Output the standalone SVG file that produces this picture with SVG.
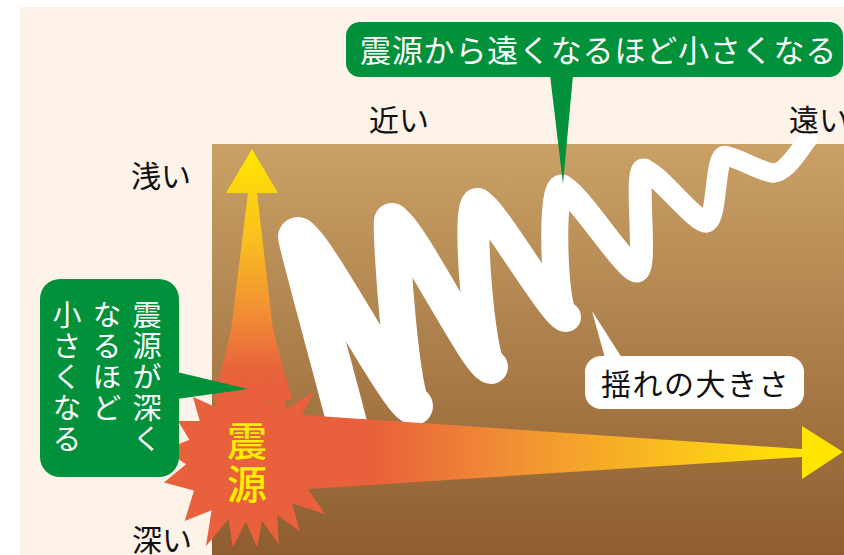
<svg xmlns="http://www.w3.org/2000/svg" width="844" height="555" viewBox="0 0 844 555">
  <defs>
    <linearGradient id="ground" x1="0" y1="144" x2="0" y2="555" gradientUnits="userSpaceOnUse">
      <stop offset="0" stop-color="#c9a166"/>
      <stop offset="1" stop-color="#8f5d2f"/>
    </linearGradient>
    <linearGradient id="gradUp" x1="0" y1="149" x2="0" y2="400" gradientUnits="userSpaceOnUse">
      <stop offset="0" stop-color="#ffe600"/>
      <stop offset="0.35" stop-color="#fac01f"/>
      <stop offset="0.62" stop-color="#f29432"/>
      <stop offset="0.88" stop-color="#e8633c"/>
      <stop offset="1" stop-color="#e8603c"/>
    </linearGradient>
    <linearGradient id="gradRight" x1="370" y1="0" x2="830" y2="0" gradientUnits="userSpaceOnUse">
      <stop offset="0" stop-color="#e8603c"/>
      <stop offset="0.35" stop-color="#f29632"/>
      <stop offset="0.7" stop-color="#fbc51b"/>
      <stop offset="0.95" stop-color="#ffe600"/>
    </linearGradient>
    <style>
      .lbl { font-family: "Noto Sans CJK JP", "Noto Sans", sans-serif; font-size: 30px; fill: #111111; }
      .call { font-family: "Noto Sans CJK JP", "Noto Sans", sans-serif; fill: #ffffff; }
      .green { fill: #00913a; }
      .wave path { fill: none; stroke: #ffffff; stroke-linecap: round; stroke-linejoin: round; }
    </style>
  </defs>

  <!-- page background -->
  <rect x="0" y="0" width="844" height="555" fill="#ffffff"/>
  <rect x="20" y="7" width="824" height="548" fill="#fef3e8"/>

  <!-- ground cross-section -->
  <rect id="ground-block" x="212" y="144" width="632" height="411" fill="url(#ground)"/>

  <!-- shaking wave, tapering as it travels away from the source -->
  <g id="wave" class="wave">
    <path d="M354,452 C350,430 300,251 298,237" stroke-width="40"/>
    <path d="M298,237 C312,237 400,406 414,406" stroke-width="38"/>
    <path d="M414,406 C402,406 390,235 392,221" stroke-width="36"/>
    <path d="M392,221 C406,221 478,367 491,367" stroke-width="34"/>
    <path d="M491,367 C480,367 466,204 478,204" stroke-width="32"/>
    <path d="M478,204 C490,204 554,317 566,317" stroke-width="30"/>
    <path d="M566,317 C554,317 550,188 562,188" stroke-width="27"/>
    <path d="M562,188 C574,188 626,270 637,270" stroke-width="25"/>
    <path d="M637,270 C648,270 634,170 644,170" stroke-width="23"/>
    <path d="M644,170 C655,170 695,222 706,222" stroke-width="21.5"/>
    <path d="M706,222 C718,222 714,156 725,156" stroke-width="20.5"/>
    <path d="M725,156 C736,156 762,173 773,173" stroke-width="19.5"/>
    <path d="M773,173 C786,173 798,152 808,139" stroke-width="19"/>
  </g>

  <!-- arrows radiating from the source -->
  <g id="connectors">
    <path id="arrow-right" d="M230,410 L802,449 L802,426 L843,452 L802,479 L802,457 L230,494 Z" fill="url(#gradRight)"/>
    <path id="arrow-up" d="M252,149 L278,193 L257,193 L273,330 L292,400 L214,400 L231,330 L248,193 L226,193 Z" fill="url(#gradUp)"/>
  </g>

  <!-- hypocentre burst -->
  <g id="hypocenter">
    <polygon fill="#e8603c" points="178,421 199.8,421 193,397 215.6,407.1 214,377 234.6,399.5 243.4,372.1 253.9,398.3 269.3,374.6 270.2,402.1 288.4,384.1 284.4,409.8 314,391.7 297.8,423.1 326.4,420 307.1,441.4 337.1,447.5 310,462.2 334.1,478.3 304.9,484.7 325,513.9 292.2,503.5 299.7,531.2 277.1,514.7 278.8,544.6 262,520.4 257.2,547.5 245.8,522 232.5,547.6 228.8,519 205.9,546.3 211.6,510.2 184.7,521.1 194,490.5 164,482.5 186.1,464.3 164.6,449.8 189.4,439.8"/>
    <text x="247" y="421" writing-mode="vertical-rl" font-family="'Noto Sans CJK JP', 'Noto Sans', sans-serif" font-size="40" font-weight="500" letter-spacing="3" fill="#ffec00">震源</text>
  </g>

  <!-- callout: smaller the farther from the source -->
  <g id="callout-distance">
    <rect class="green" x="346" y="22" width="497" height="55" rx="14"/>
    <polygon class="green" points="550,75 573,75 563,184"/>
    <text class="call" x="360" y="62" font-size="31" letter-spacing="0.8">震源から遠くなるほど小さくなる</text>
  </g>

  <!-- callout: smaller the deeper the source -->
  <g id="callout-depth">
    <rect class="green" x="40" y="279" width="139" height="198" rx="20"/>
    <polygon class="green" points="177,372 177,399 248,389"/>
    <text class="call" x="147" y="300" font-size="29" letter-spacing="2" writing-mode="vertical-rl">震源が深く</text>
    <text class="call" x="107" y="300" font-size="29" letter-spacing="2" writing-mode="vertical-rl">なるほど</text>
    <text class="call" x="67" y="300" font-size="29" letter-spacing="2" writing-mode="vertical-rl">小さくなる</text>
  </g>

  <!-- shaking amplitude label -->
  <g id="label-amplitude">
    <polygon fill="#ffffff" points="605,358 622,358 592,311"/>
    <rect x="585" y="356" width="219" height="53" rx="16" fill="#ffffff"/>
    <text class="lbl" x="601" y="395" letter-spacing="1.5">揺れの大きさ</text>
  </g>

  <!-- axis labels -->
  <g id="axis-labels">
    <text id="near" class="lbl" x="369" y="131">近い</text>
    <text id="far" class="lbl" x="789" y="131">遠い</text>
    <text id="shallow" class="lbl" x="131" y="187">浅い</text>
    <text id="deep" class="lbl" x="132" y="551">深い</text>
  </g>
</svg>
